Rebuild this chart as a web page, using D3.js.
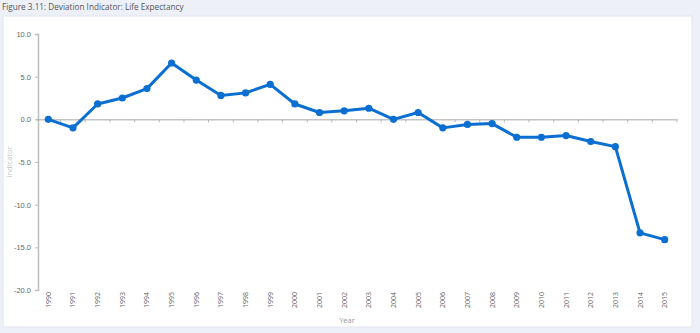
<!DOCTYPE html>
<html>
<head>
<meta charset="utf-8">
<script src="https://cdn.jsdelivr.net/npm/d3@7"></script>
<style>
  html, body { margin: 0; padding: 0; background: #eef0f8; }
  svg { display: block; font-family: "Open Sans", "Noto Sans", sans-serif; }
</style>
</head>
<body>
<svg id="chart" width="700" height="333"></svg>
<script>
// Deviation indicator for life expectancy, 1990–2015
const years = ["1990","1991","1992","1993","1994","1995","1996","1997","1998","1999",
               "2000","2001","2002","2003","2004","2005","2006","2007","2008","2009",
               "2010","2011","2012","2013","2014","2015"];
const indicator = [0.0, -1.0, 1.8, 2.5, 3.6, 6.6, 4.6, 2.8, 3.1, 4.1,
                   1.8, 0.8, 1.0, 1.3, 0.0, 0.8, -1.0, -0.6, -0.5, -2.1,
                   -2.1, -1.9, -2.6, -3.2, -13.3, -14.1];
const yTicks = [10, 5, 0, -5, -10, -15, -20];

const svg = d3.select("#chart");

// white card behind the plot
svg.append("rect")
  .attr("x", 3).attr("y", 16).attr("width", 689).attr("height", 311)
  .attr("fill", "#ffffff").attr("stroke", "#e2e5f1");

svg.append("text")
  .attr("x", 2).attr("y", 10)
  .attr("font-size", 8.2).attr("fill", "#555")
  .text("Figure 3.11: Deviation Indicator: Life Expectancy");

const x = d3.scaleBand().domain(years).range([36, 677]).padding(0);
const y = d3.scaleLinear().domain([-20, 10]).range([290, 34]);

// y axis
const yAxis = svg.append("g").attr("transform", "translate(38,0)")
  .call(d3.axisLeft(y).tickValues(yTicks).tickSize(3).tickPadding(4));
yAxis.select(".domain").attr("stroke", "#bdbdbd").attr("stroke-width", 1.5);
yAxis.selectAll(".tick line").attr("stroke", "#bdbdbd");
yAxis.selectAll("text").attr("fill", "#666").attr("font-size", 7.5)
  .text(d => d3.format(".1f")(d).replace("−", "-"));

// category axis along the zero line
const xAxis = svg.append("g").attr("transform", `translate(0,${y(0)})`)
  .call(d3.axisBottom(x).tickSize(0).tickFormat(""));
xAxis.select(".domain").attr("stroke", "#a8a8a8").attr("stroke-width", 1);
xAxis.selectAll(".tick").remove();
xAxis.selectAll("line.sep")
  .data(years)
  .enter().append("line")
  .attr("class", "sep")
  .attr("x1", d => x(d) + x.bandwidth())
  .attr("x2", d => x(d) + x.bandwidth())
  .attr("y1", 0).attr("y2", 3)
  .attr("stroke", "#b5b5b5");

// year labels at the bottom
svg.append("g").selectAll("text")
  .data(years).enter().append("text")
  .attr("transform", d => `translate(${x(d) + x.bandwidth() / 2 + 2.5},292) rotate(-90)`)
  .attr("text-anchor", "end")
  .attr("font-size", 7).attr("fill", "#666")
  .text(d => d);

svg.append("text")
  .attr("x", 347).attr("y", 323).attr("text-anchor", "middle")
  .attr("font-size", 7.5).attr("fill", "#999").text("Year");

svg.append("text")
  .attr("transform", "translate(12,162) rotate(-90)")
  .attr("text-anchor", "middle")
  .attr("font-size", 7.5).attr("fill", "#c4c4c4").text("Indicator");

// series
const cx = d => x(d) + x.bandwidth() / 2;
const line = d3.line().x((d, i) => cx(years[i])).y(d => y(d));

svg.append("path").datum(indicator)
  .attr("d", line).attr("fill", "none")
  .attr("stroke", "#0a6fd1").attr("stroke-width", 3).attr("stroke-linejoin", "round");

svg.append("g").selectAll("circle")
  .data(indicator).enter().append("circle")
  .attr("cx", (d, i) => cx(years[i])).attr("cy", d => y(d)).attr("r", 3.6)
  .attr("fill", "#0a6fd1");
</script>
</body>
</html>
